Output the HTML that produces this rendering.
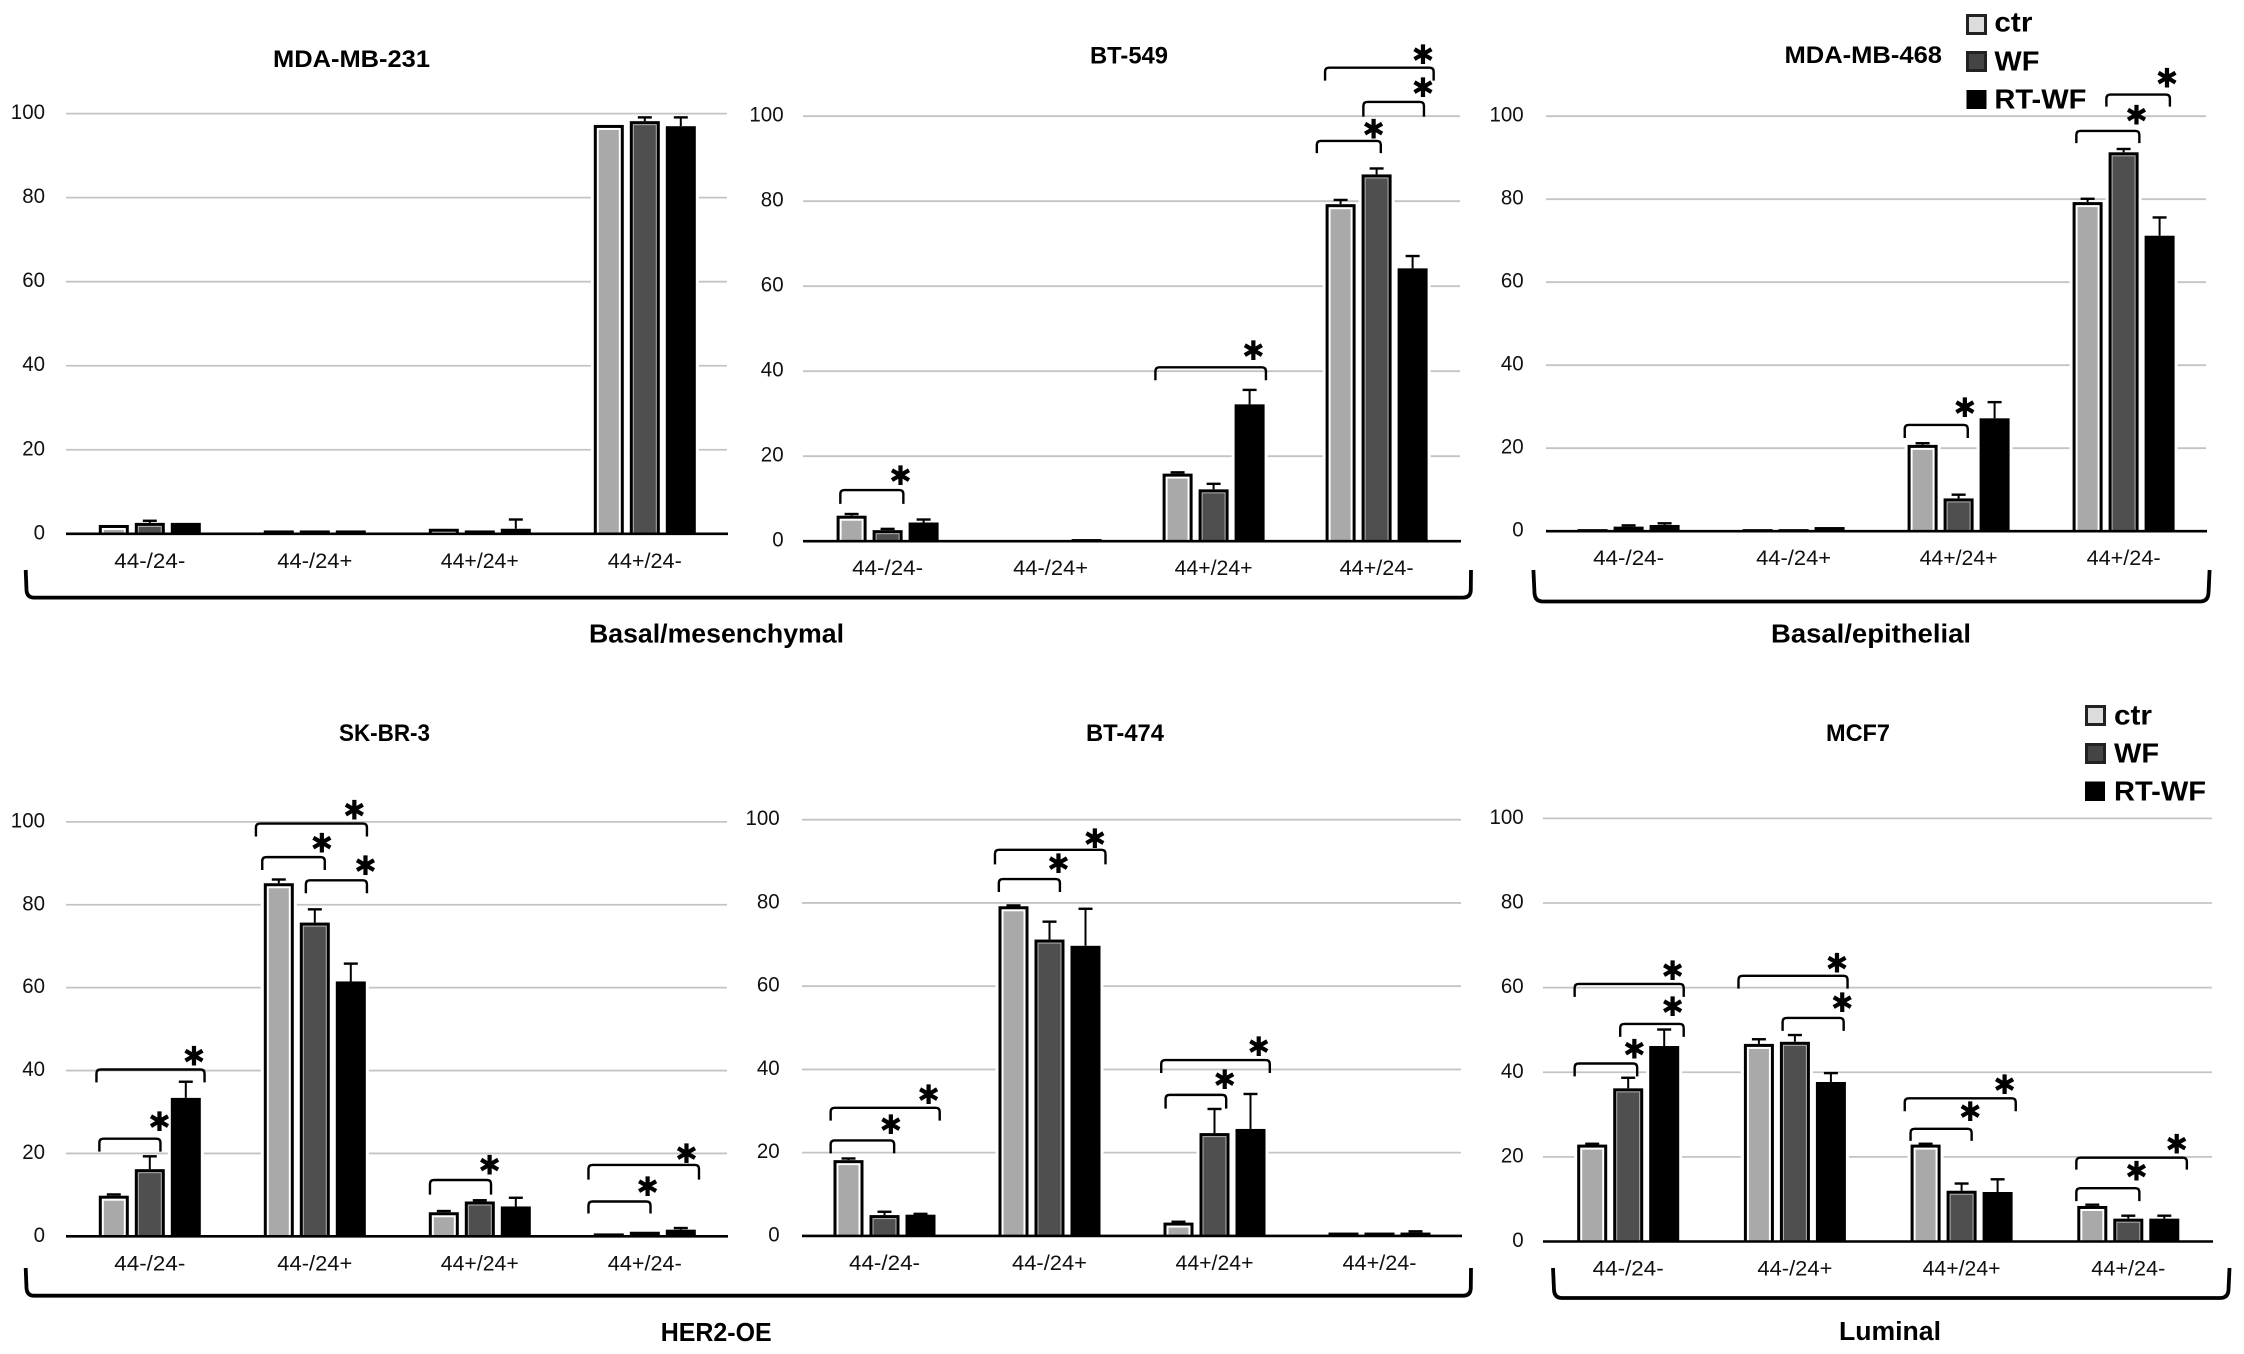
<!DOCTYPE html>
<html lang="en">
<head>
<meta charset="utf-8">
<title>CD44/CD24 subpopulations across breast cancer cell lines</title>
<style>
  html, body { margin: 0; padding: 0; background: #ffffff; }
  body { width: 2244px; height: 1354px; overflow: hidden; }
  svg { display: block; font-family: "Liberation Sans", Arial, sans-serif; }
</style>
</head>
<body>
<svg id="figure" xmlns="http://www.w3.org/2000/svg" width="2244" height="1354" viewBox="0 0 2244 1354">
  <rect x="0" y="0" width="2244" height="1354" fill="#ffffff"/>

  <path d="M25.7 570 L26.5 590 Q27 597.6 34 597.6 L1463 597.6 Q1470.5 597.6 1470.8 590 L1471 570" fill="none" stroke="#000" stroke-width="3.8"/>
  <path d="M1533.4 570 L1534.5 593 Q1535 601.5 1543 601.5 L2200 601.5 Q2208 601.5 2208.5 593 L2209.6 570" fill="none" stroke="#000" stroke-width="3.8"/>
  <path d="M25.7 1268 L26.5 1288 Q27 1295.7 34 1295.7 L1463 1295.7 Q1470.5 1295.7 1470.8 1288 L1471 1268" fill="none" stroke="#000" stroke-width="3.8"/>
  <path d="M1553 1268 L1554 1290 Q1554.5 1298 1562 1298 L2220 1298 Q2228 1298 2228.5 1290 L2229.5 1268" fill="none" stroke="#000" stroke-width="3.8"/>

  <text x="589" y="642.7" font-size="25.5" font-weight="700" textLength="255" lengthAdjust="spacingAndGlyphs">Basal/mesenchymal</text>
  <text x="1771" y="642.7" font-size="25.5" font-weight="700" textLength="200" lengthAdjust="spacingAndGlyphs">Basal/epithelial</text>
  <text x="660.7" y="1340.8" font-size="25.5" font-weight="700" textLength="111" lengthAdjust="spacingAndGlyphs">HER2-OE</text>
  <text x="1839" y="1340" font-size="25.5" font-weight="700" textLength="102" lengthAdjust="spacingAndGlyphs">Luminal</text>

  <g>
    <rect x="1967.5" y="15.5" width="18" height="18" fill="#dcdcdc" stroke="#222" stroke-width="3"/>
    <rect x="1967.5" y="52.5" width="18" height="18" fill="#444" stroke="#222" stroke-width="3"/>
    <rect x="1966.5" y="90" width="20" height="19" fill="#000"/>
    <text x="1994.4" y="31.7" font-size="28" font-weight="700" textLength="38" lengthAdjust="spacingAndGlyphs">ctr</text>
    <text x="1994.4" y="70.7" font-size="28" font-weight="700" textLength="45" lengthAdjust="spacingAndGlyphs">WF</text>
    <text x="1994.4" y="108.4" font-size="28" font-weight="700" textLength="92" lengthAdjust="spacingAndGlyphs">RT-WF</text>
  </g>
  <g>
    <rect x="2086.5" y="706.5" width="18" height="18" fill="#dcdcdc" stroke="#222" stroke-width="3"/>
    <rect x="2086.5" y="744.5" width="18" height="18" fill="#444" stroke="#222" stroke-width="3"/>
    <rect x="2085" y="781.5" width="20" height="19.5" fill="#000"/>
    <text x="2114" y="724.7" font-size="28" font-weight="700" textLength="38" lengthAdjust="spacingAndGlyphs">ctr</text>
    <text x="2114" y="762.5" font-size="28" font-weight="700" textLength="45" lengthAdjust="spacingAndGlyphs">WF</text>
    <text x="2114" y="800.4" font-size="28" font-weight="700" textLength="92" lengthAdjust="spacingAndGlyphs">RT-WF</text>
  </g>
</svg>

<script>
// ---- Data ----
const categories = ["44-/24-", "44-/24+", "44+/24+", "44+/24-"];
const yTicks = [0, 20, 40, 60, 80, 100];

const mda231Ctr = [2.1, 0.8, 1.2, 97.3];
const mda231Wf = [2.6, 0.8, 0.8, 98.2];
const mda231Rt = [2.6, 0.8, 1.2, 97];
const mda231CtrErr = [0, 0, 0, 0];
const mda231WfErr = [0.5, 0, 0, 0.9];
const mda231RtErr = [0, 0, 2.2, 2.1];

const bt549Ctr = [6, 0, 15.9, 79.3];
const bt549Wf = [2.6, 0, 12.2, 86.3];
const bt549Rt = [4.4, 0.5, 32.2, 64.2];
const bt549CtrErr = [0.4, 0, 0.3, 1];
const bt549WfErr = [0.3, 0, 1.3, 1.4];
const bt549RtErr = [0.7, 0, 3.4, 2.9];

const mda468Ctr = [0.5, 0.5, 20.8, 79.3];
const mda468Wf = [1.1, 0.5, 7.9, 91.3];
const mda468Rt = [1.5, 1, 27.2, 71.2];
const mda468CtrErr = [0, 0, 0.4, 0.8];
const mda468WfErr = [0.3, 0, 0.9, 0.8];
const mda468RtErr = [0.4, 0, 3.9, 4.4];

const skbr3Ctr = [9.8, 85.2, 5.8, 0.7];
const skbr3Wf = [16.2, 75.7, 8.4, 1.1];
const skbr3Rt = [33.4, 61.5, 7.2, 1.6];
const skbr3CtrErr = [0.3, 0.9, 0.3, 0];
const skbr3WfErr = [3.1, 3.2, 0.3, 0];
const skbr3RtErr = [3.9, 4.3, 2.1, 0.4];

const bt474Ctr = [18.2, 79.2, 3.2, 0.8];
const bt474Wf = [5, 71.2, 24.7, 0.8];
const bt474Rt = [5.1, 69.7, 25.7, 0.8];
const bt474CtrErr = [0.4, 0.2, 0.2, 0];
const bt474WfErr = [0.8, 4.3, 5.8, 0];
const bt474RtErr = [0.2, 8.9, 8.4, 0.3];

const mcf7Ctr = [22.9, 46.7, 22.9, 8.4];
const mcf7Wf = [36.2, 47.2, 12, 5.4];
const mcf7Rt = [46.2, 37.7, 11.7, 5.4];
const mcf7CtrErr = [0.2, 1.1, 0.2, 0.3];
const mcf7WfErr = [2.5, 1.6, 1.7, 0.7];
const mcf7RtErr = [3.9, 2.1, 3, 0.7];

// ---- Panel layout (geometry only) ----
const panels = [
  { name: "mda-mb-231", title: "MDA-MB-231", tx: 273, ty: 67, tw: 157, left: 66, right: 727, y100: 113.6, y0: 533.8, c0: 149.8, step: 165, tickX: 45,
    ctr: mda231Ctr, wf: mda231Wf, rt: mda231Rt, ctrErr: mda231CtrErr, wfErr: mda231WfErr, rtErr: mda231RtErr, ox: 0, oy: 0, sy: 2.306, notes: [] },
  { name: "bt-549", title: "BT-549", tx: 1090, ty: 63.3, tw: 78, left: 803, right: 1460, y100: 116.2, y0: 541.2, c0: 887.6, step: 163, tickX: 783.6,
    ctr: bt549Ctr, wf: bt549Wf, rt: bt549Rt, ctrErr: bt549CtrErr, wfErr: bt549WfErr, rtErr: bt549RtErr, ox: 740, oy: 0, sy: 2.306,
    notes: [[207,337,1130,32,331,1097],[857,1085,847,30,1059,808],[1190,1322,325,28,1307,297],[1286,1411,235,34,1409,202],[1207,1431,156,30,1409,126]] },
  { name: "mda-mb-468", title: "MDA-MB-468", tx: 1784.5, ty: 63, tw: 157.5, left: 1546, right: 2206, y100: 116.2, y0: 531.2, c0: 1628.6, step: 165, tickX: 1523.7,
    ctr: mda468Ctr, wf: mda468Wf, rt: mda468Rt, ctrErr: mda468CtrErr, wfErr: mda468WfErr, rtErr: mda468RtErr, ox: 1484, oy: 0, sy: 2.306,
    notes: [[868,998,980,30,992,940],[1222,1352,302,28,1346,265],[1284,1415,218,28,1409,180]] },
  { name: "sk-br-3", title: "SK-BR-3", tx: 339, ty: 741, tw: 91, left: 66, right: 727, y100: 821.9, y0: 1236.3, c0: 149.8, step: 165, tickX: 45,
    ctr: skbr3Ctr, wf: skbr3Wf, rt: skbr3Rt, ctrErr: skbr3CtrErr, wfErr: skbr3WfErr, rtErr: skbr3RtErr, ox: 0, oy: 680, sy: 2.326,
    notes: [[199,422,906,30,400,875],[205,331,1067,30,329,1027],[528,757,334,30,731,302],[541,670,412,30,664,379],[631,757,466,30,754,432],[887,1013,1163,34,1010,1128],[1214,1442,1128,34,1416,1101],[1214,1342,1213,28,1336,1178]] },
  { name: "bt-474", title: "BT-474", tx: 1086, ty: 741, tw: 78, left: 802, right: 1461, y100: 819.7, y0: 1235.9, c0: 884.5, step: 165, tickX: 779.7,
    ctr: bt474Ctr, wf: bt474Wf, rt: bt474Rt, ctrErr: bt474CtrErr, wfErr: bt474WfErr, rtErr: bt474RtErr, ox: 740, oy: 680, sy: 2.326,
    notes: [[187,412,995,30,389,964],[187,318,1071,30,311,1034],[526,754,395,34,732,369],[534,660,463,30,657,427],[869,1093,884,30,1070,853],[878,1003,965,32,1000,929]] },
  { name: "mcf7", title: "MCF7", tx: 1826, ty: 741, tw: 64, left: 1543, right: 2212, y100: 818.4, y0: 1241.5, c0: 1628.2, step: 166.7, tickX: 1523.7,
    ctr: mcf7Ctr, wf: mcf7Wf, rt: mcf7Rt, ctrErr: mcf7CtrErr, wfErr: mcf7WfErr, rtErr: mcf7RtErr, ox: 1484, oy: 680, sy: 2.326,
    notes: [[187,412,707,30,389,676],[281,412,800,30,389,760],[187,316,892,30,310,858],[525,750,688,30,728,658],[616,742,786,30,739,750],[868,1097,973,30,1074,941],[880,1006,1044,28,1003,1004],[1222,1450,1111,28,1429,1079],[1222,1352,1182,30,1346,1142]] }
];

const labelWidths = [71, 75, 78, 74];
const BAR_W = 30;
const PITCH = 36;
const ZOOM_X = 2.063;

const NS = "http://www.w3.org/2000/svg";
const root = document.getElementById("figure");

function make(tag, parent, attrs) {
  const node = document.createElementNS(NS, tag);
  for (const k in attrs) node.setAttribute(k, attrs[k]);
  parent.appendChild(node);
  return node;
}
function yScale(p, v) { return p.y0 - (v / 100) * (p.y0 - p.y100); }
function xBand(p, catIndex) { return p.c0 + catIndex * p.step; }

function drawBar(g, p, series, catIndex, seriesIndex, value, err) {
  const cx = xBand(p, catIndex) + (seriesIndex - 1) * PITCH;
  const x = cx - BAR_W / 2;
  const top = yScale(p, value);
  const h = p.y0 - top;

  const halo = make("rect", g, { x: x - 3, y: top - 1, width: BAR_W + 6, height: Math.max(h, 0), fill: "#fff" });
  
  

  const bar = make("rect", g, { x: x, y: top, width: BAR_W, height: Math.max(h, 0), fill: "#000" });
  
  

  if (seriesIndex < 2 && h > 5) {
    const edge = seriesIndex === 0 ? "#ffffff" : "#b5b5b5";
    const body = seriesIndex === 0 ? "#a9a9a9" : "#4f4f4f";
    const gap = make("rect", g, { x: x + 3, y: top + 3, width: BAR_W - 6, height: h - 3, fill: edge });
    
    
    const inset = seriesIndex === 0 ? 5 : 4;
    if (h > inset + 2) {
      const fill = make("rect", g, { x: x + inset, y: top + inset, width: BAR_W - 2 * inset, height: h - inset - 1, fill: body });
      
      
    }
  }

  if (err > 0) {
    const errTop = yScale(p, value + err);
    const stem = make("line", g, { x1: cx, x2: cx, y1: top, y2: errTop, stroke: "#000", "stroke-width": 2 });
    
    
    const cap = make("line", g, { x1: cx - 7, x2: cx + 7, y1: errTop, y2: errTop, stroke: "#000", "stroke-width": 2.4 });
    
    
  }
}

panels.forEach(function (p) {
  const g = make("g", root, {});
  
  

  const title = make("text", g, { x: p.tx, y: p.ty, "font-size": 24, "font-weight": 700, textLength: p.tw, lengthAdjust: "spacingAndGlyphs" });
  
  
  title.textContent = p.title;

  yTicks.forEach(function (t) {
    const y = yScale(p, t);
    if (t > 0) {
      const grid = make("line", g, { x1: p.left, x2: p.right, y1: y, y2: y, stroke: "#c4c4c4", "stroke-width": 1.8 });
      
      
    }
    const tick = make("text", g, { x: p.tickX, y: y + 5.5, "font-size": 21.5, "text-anchor": "end", fill: "#111", textLength: String(t).length * 11.4, lengthAdjust: "spacingAndGlyphs" });
    
    
    tick.textContent = String(t);
  });

  categories.forEach(function (cat, i) {
    drawBar(g, p, "ctr", i, 0, p.ctr[i], p.ctrErr[i]);
    drawBar(g, p, "wf", i, 1, p.wf[i], p.wfErr[i]);
    drawBar(g, p, "rt-wf", i, 2, p.rt[i], p.rtErr[i]);

    const label = make("text", g, { x: xBand(p, i) - labelWidths[i] / 2, y: p.y0 + 34, "font-size": 21.5, fill: "#111", textLength: labelWidths[i], lengthAdjust: "spacingAndGlyphs" });
    
    
    label.textContent = cat;
  });

  const axis = make("line", g, { x1: p.left, x2: p.right + 1, y1: p.y0, y2: p.y0, stroke: "#000", "stroke-width": 2.6 });
  
  

  p.notes.forEach(function (n) {
    const x1 = p.ox + n[0] / ZOOM_X;
    const x2 = p.ox + n[1] / ZOOM_X;
    const y = p.oy + n[2] / p.sy;
    const b = y + n[3] / p.sy;
    const r = 4;
    const path = make("path", g, {
      d: "M" + x1 + " " + b + " L" + x1 + " " + (y + r) + " Q" + x1 + " " + y + " " + (x1 + r) + " " + y +
         " L" + (x2 - r) + " " + y + " Q" + x2 + " " + y + " " + x2 + " " + (y + r) + " L" + x2 + " " + b,
      fill: "none", stroke: "#000", "stroke-width": 2.4
    });
    
    

    const star = make("text", g, {
      x: p.ox + n[4] / ZOOM_X, y: p.oy + n[5] / p.sy + 9.5,
      "font-size": 27, "text-anchor": "middle", fill: "#000",
      "font-family": "'DejaVu Sans', sans-serif"
    });
    
    
    star.textContent = "\u2731";
  });
});
</script>
</body>
</html>
